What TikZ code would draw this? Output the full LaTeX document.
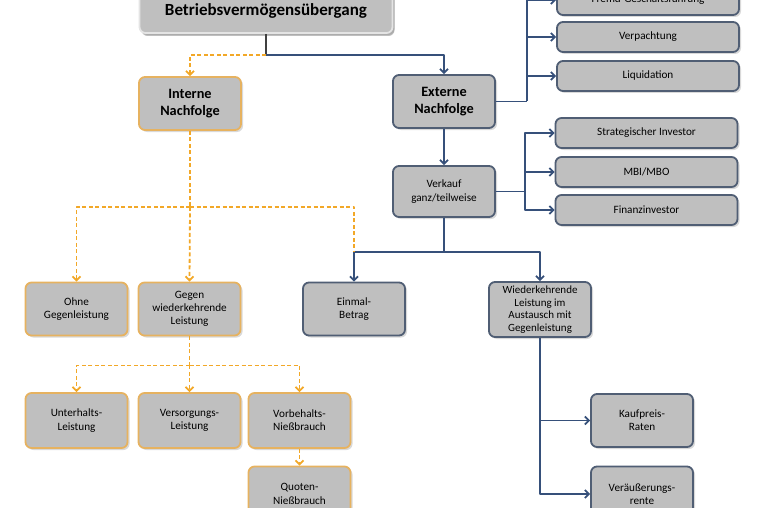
\documentclass[tikz,border=0pt]{standalone}
\usepackage{fontspec}
\setmainfont{Carlito}
\usepackage{xcolor}
\usepackage{tikz}
\usetikzlibrary {positioning}
\usetikzlibrary{arrows.meta,shadows}
\definecolor{boxgrey}{RGB}{191,191,191}
\definecolor{slate}{RGB}{80,94,116}
\definecolor{gold}{RGB}{230,178,96}
\definecolor{dashgold}{RGB}{242,168,40}
\definecolor{linkblue}{RGB}{54,80,122}
\definecolor{paleedge}{RGB}{228,228,228}
\tikzset{edge/.style = {->,> = {Straight Barb[length=4pt,width=8pt]}, draw=linkblue, line width=1.8pt}}
\tikzset{dash edge/.style = {edge, draw=dashgold, dash pattern=on 4pt off 2.5pt}}

\begin{document}
\begin{tikzpicture}[x=1pt,y=-1pt,line join=round,
    main node/.style={draw=slate,line width=1.8pt,fill=boxgrey,rounded corners=6pt,align=center,
        minimum width=102pt,minimum height=53pt,inner sep=2pt,font=\fontsize{11.2}{13.2}\selectfont,
        drop shadow={shadow xshift=2pt,shadow yshift=-2pt,opacity=.3}},
    gold node/.style={main node,draw=gold},
    wide node/.style={main node,minimum width=182pt,minimum height=30pt},
    bold node/.style={font=\fontsize{14.3}{17.3}\selectfont\bfseries}]
                \useasboundingbox (0,0) rectangle (762,508);
                \clip (0,0) rectangle (762,508);

                \node[main node,draw=paleedge,font=\fontsize{17}{20}\selectfont\bfseries,minimum width=253pt,minimum height=44pt,
                    drop shadow={shadow xshift=2pt,shadow yshift=-3pt,opacity=.5}] (bvu) at (266,11) {Betriebsvermögensübergang};
                \node[gold node,bold node] (int) at (190,103.5) {Interne\\Nachfolge};
                \node[main node,bold node] (ext) at (444,101.5) {Externe\\Nachfolge};

                \node[wide node] (fremd) at (648,0) {Fremd-Geschäftsführung};
                \node[wide node] (verp) [below of=fremd,node distance=37pt] {Verpachtung};
                \node[wide node] (liq) [below of=verp,node distance=39pt] {Liquidation};

                \node[main node,minimum height=51pt] (verk) [below of=ext,node distance=90pt] {Verkauf\\ganz/teilweise};
                \node[wide node] (strat) at (646.5,133) {Strategischer Investor};
                \node[wide node] (mbi) [below of=strat,node distance=39pt] {MBI/MBO};
                \node[wide node] (fin) [below of=mbi,node distance=38pt] {Finanzinvestor};

                \node[gold node] (ohne) at (76.5,309) {Ohne\\Gegenleistung};
                \node[gold node] (gegen) [right of=ohne,node distance=113pt] {Gegen\\wiederkehrende\\Leistung};
                \node[main node] (einmal) at (354,309) {Einmal-\\Betrag};
                \node[main node,minimum height=55pt,font=\fontsize{11}{12.6}\selectfont] (wieder) at (540,309.5) {Wiederkehrende\\Leistung im\\Austausch mit\\Gegenleistung};

                \node[gold node,minimum height=55pt] (unter) at (76.5,420.5) {Unterhalts-\\Leistung};
                \node[gold node,minimum height=55pt] (versorg) [right of=unter,node distance=113pt] {Versorgungs-\\Leistung};
                \node[gold node,minimum height=55pt] (vorb) [right of=versorg,node distance=110pt] {Vorbehalts-\\Nießbrauch};
                \node[gold node,minimum height=55pt] (quoten) [below of=vorb,node distance=73.5pt] {Quoten-\\Nießbrauch};

                \node[main node] (kauf) at (642,420.5) {Kaufpreis-\\Raten};
                \node[main node,minimum height=55pt] (veraeus) [below of=kauf,node distance=73.5pt] {Veräußerungs-\\rente};

                % external branch
                \coordinate (split) at (266,55);
                \coordinate (ebus) at ([xshift=31pt]ext.east);
                \coordinate (vbus) at ([xshift=29pt]verk.east);
                \coordinate (vdown) at ([yshift=-34pt]verk.south);
                \draw[edge,-,draw=black!75] (bvu.south) -- (split);
                \draw[edge] (split) -| (ext.north);
                \draw[edge,-] (ext.east) -- (ebus);
                \foreach \n in {fremd,verp,liq}
                    \draw[edge] (ebus) |- (\n.west);
                \draw[edge] (ext) -- (verk);
                \draw[edge,-] (verk.east) -- (vbus);
                \foreach \n in {strat,mbi,fin}
                    \draw[edge] (vbus) |- (\n.west);
                \draw[edge,-] (verk.south) -- (vdown);
                \draw[edge] (vdown) -| (einmal.north);
                \draw[edge] (vdown) -| (wieder.north);
                \draw[edge] (wieder.south) |- (kauf.west);
                \draw[edge] (wieder.south) |- (veraeus.west);

                % internal branch
                \coordinate (ibus) at ([yshift=-76pt]int.south);
                \coordinate (gbus) at ([yshift=-29pt]gegen.south);
                \coordinate (ejoin) at (vdown -| einmal.north);
                \draw[dash edge] (split) -| (int.north);
                \draw[dash edge,-] (int.south) -- (ibus);
                \draw[dash edge] (ibus) -| (ohne.north);
                \draw[dash edge] (ibus) -- (gegen.north);
                \draw[dash edge,-] (ibus) -| (ejoin);
                \draw[dash edge,-] (gegen.south) -- (gbus);
                \foreach \n in {unter,versorg,vorb}
                    \draw[dash edge] (gbus) -| (\n.north);
                \draw[dash edge] (vorb) -- (quoten);
            \end{tikzpicture}
\end{document}
